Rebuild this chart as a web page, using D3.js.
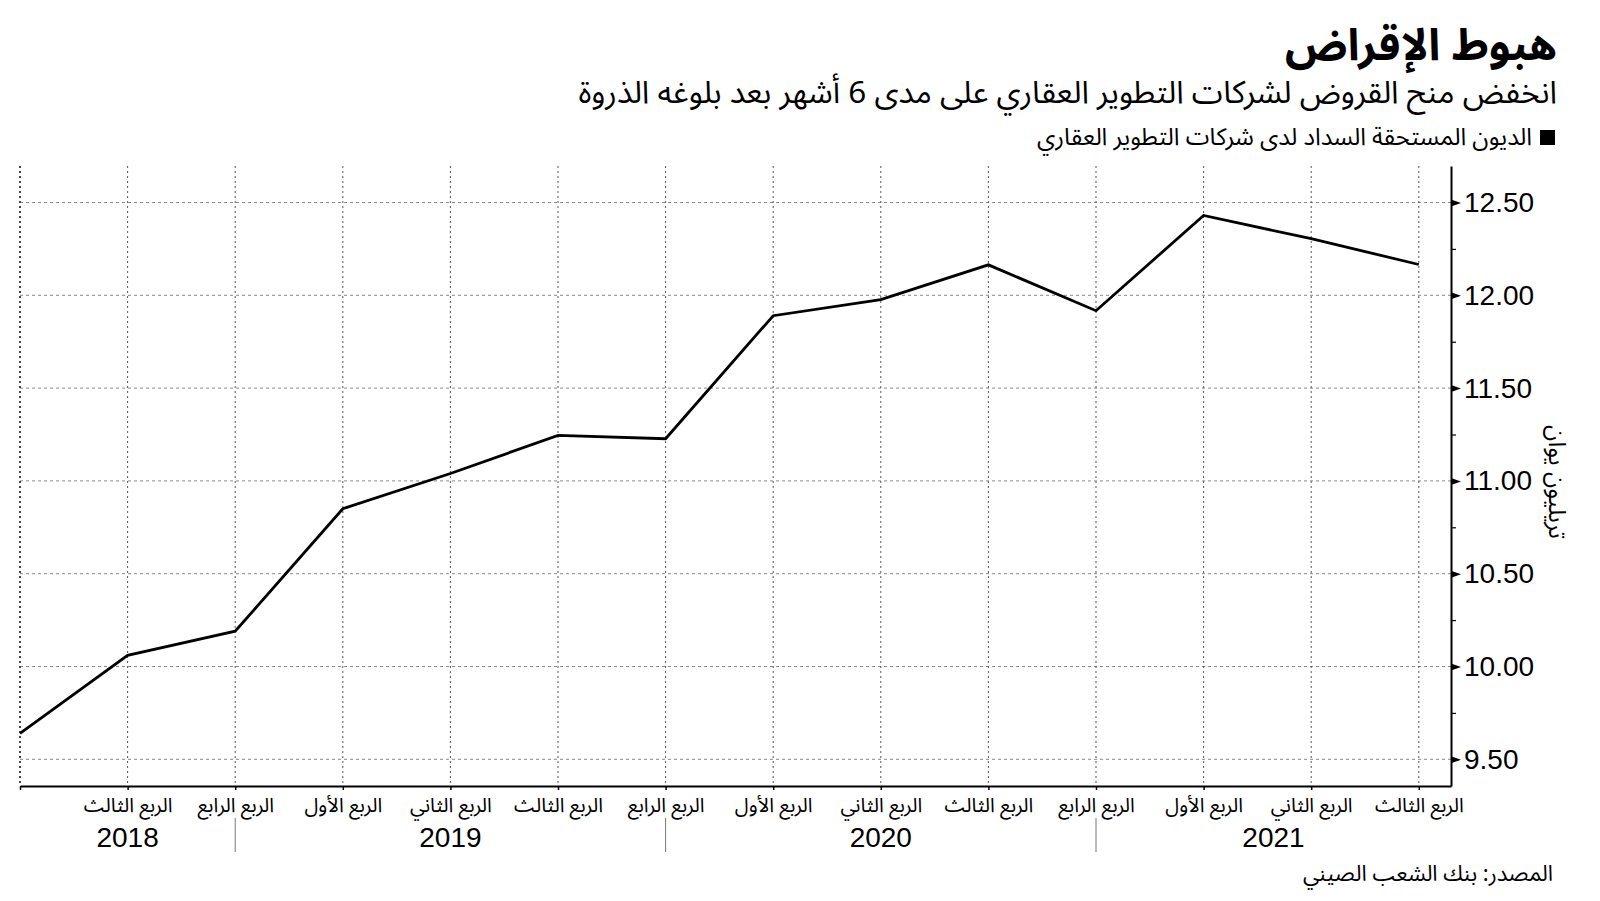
<!DOCTYPE html>
<html lang="ar">
<head>
<meta charset="utf-8">
<script src="https://cdn.jsdelivr.net/npm/d3@7"></script>
<style>
  html, body { margin: 0; padding: 0; background: #fff; }
  svg { display: block; }
  .ar { font-family: "Noto Sans Arabic", "DejaVu Sans", sans-serif; }
  .num { font-family: "Liberation Sans", Arial, sans-serif; }
</style>
</head>
<body>
<svg id="chart" width="1600" height="901"></svg>
<script>
// ---- data ----
const periods = ["2018-Q2","2018-Q3","2018-Q4","2019-Q1","2019-Q2","2019-Q3","2019-Q4",
                 "2020-Q1","2020-Q2","2020-Q3","2020-Q4","2021-Q1","2021-Q2","2021-Q3"];
const quarterLabels = ["", "الربع الثالث", "الربع الرابع", "الربع الأول", "الربع الثاني", "الربع الثالث", "الربع الرابع",
                       "الربع الأول", "الربع الثاني", "الربع الثالث", "الربع الرابع", "الربع الأول", "الربع الثاني", "الربع الثالث"];
const values = [9.64, 10.06, 10.19, 10.85, 11.04, 11.245, 11.227, 11.89, 11.977, 12.164, 11.917, 12.43, 12.305, 12.166];
const years = ["2018", "2019", "2020", "2021"];
const yearStartIndex = [0, 2, 6, 10];
const yTicks = [9.5, 10, 10.5, 11, 11.5, 12, 12.5];
const yMinorTicks = [9.75, 10.25, 10.75, 11.25, 11.75, 12.25];

const titleText = "هبوط الإقراض";
const subtitleText = "انخفض منح القروض لشركات التطوير العقاري على مدى 6 أشهر بعد بلوغه الذروة";
const legendText = "الديون المستحقة السداد لدى شركات التطوير العقاري";
const yAxisTitle = "تريليون يوان";
const sourceText = "المصدر: بنك الشعب الصيني";

// ---- layout ----
const plotLeft = 20, plotRight = 1451, plotTop = 166, plotBottom = 786;
const step = 107.6;

const svg = d3.select("#chart");

const x = d3.scaleLinear()
  .domain([0, (plotRight - plotLeft) / step])
  .range([plotLeft, plotRight]);

const y = d3.scaleLinear()
  .domain([9.5 - (plotBottom - 759.3) / 185.6, 12.5 + (202.5 - plotTop) / 185.6])
  .range([plotBottom, plotTop]);

// gridlines
const grid = svg.append("g");
grid.selectAll("line.h").data(yTicks).join("line")
  .attr("class", "h")
  .attr("x1", plotLeft).attr("x2", plotRight)
  .attr("y1", d => y(d)).attr("y2", d => y(d))
  .attr("stroke", "#8a8a8a").attr("stroke-width", 1)
  .attr("stroke-dasharray", "3,3");

grid.selectAll("line.v").data(d3.range(periods.length)).join("line")
  .attr("class", "v")
  .attr("x1", d => x(d)).attr("x2", d => x(d))
  .attr("y1", plotTop).attr("y2", plotBottom)
  .attr("stroke", d => d === 0 ? "#444" : "#555")
  .attr("stroke-width", d => d === 0 ? 2 : 1)
  .attr("stroke-dasharray", "2,3");

// x axis
const xAxis = svg.append("g")
  .attr("transform", `translate(0,${plotBottom})`)
  .call(d3.axisBottom(x).tickValues(d3.range(periods.length)).tickSize(4).tickSizeOuter(0)
        .tickFormat(i => quarterLabels[i]));
xAxis.select(".domain").attr("stroke", "#000").attr("stroke-width", 2);
xAxis.selectAll(".tick line").attr("stroke", "#000").attr("stroke-width", 1.5);
xAxis.selectAll(".tick text")
  .attr("class", "ar")
  .attr("y", 26).attr("dy", 0)
  .attr("font-size", 20)
  .attr("fill", "#000");

// year separators and labels
const yearEnds = yearStartIndex.slice(1).map(i => x(i)).concat([plotRight]);
const yearGroups = years.map((yr, k) => ({ yr, x0: x(yearStartIndex[k]), x1: yearEnds[k] }));
svg.selectAll("line.ysep").data(yearGroups.slice(1)).join("line")
  .attr("class", "ysep")
  .attr("x1", d => d.x0).attr("x2", d => d.x0)
  .attr("y1", 818).attr("y2", 852)
  .attr("stroke", "#777").attr("stroke-width", 1);
svg.selectAll("text.year").data(yearGroups).join("text")
  .attr("class", "year num")
  .attr("x", d => (d.x0 + d.x1) / 2)
  .attr("y", 847)
  .attr("text-anchor", "middle")
  .attr("font-size", 28)
  .attr("fill", "#000")
  .text(d => d.yr);

// y axis (right)
const yAxis = svg.append("g")
  .attr("transform", `translate(${plotRight},0)`)
  .call(d3.axisRight(y).tickValues(yTicks).tickSize(0).tickPadding(13).tickSizeOuter(0)
        .tickFormat(d3.format(".2f")));
yAxis.select(".domain").attr("stroke", "#000").attr("stroke-width", 2);
yAxis.selectAll(".tick text")
  .attr("class", "num")
  .attr("font-size", 28)
  .attr("fill", "#000");
yAxis.selectAll(".tick").append("path")
  .attr("d", "M0,-3.5L10,0L0,3.5Z")
  .attr("fill", "#000");
const yMinor = svg.append("g")
  .attr("transform", `translate(${plotRight},0)`)
  .call(d3.axisRight(y).tickValues(yMinorTicks).tickSize(5).tickFormat(""));
yMinor.select(".domain").remove();
yMinor.selectAll(".tick line").attr("stroke", "#000").attr("stroke-width", 1.2);

// y axis title
svg.append("text")
  .attr("class", "ar")
  .attr("transform", `translate(1549,482) rotate(90)`)
  .attr("text-anchor", "middle")
  .attr("font-size", 24)
  .attr("fill", "#000")
  .text(yAxisTitle);

// line
const line = d3.line().x((d, i) => x(i)).y(d => y(d));
svg.append("path")
  .datum(values)
  .attr("d", line)
  .attr("fill", "none")
  .attr("stroke", "#000")
  .attr("stroke-width", 2.8)
  .attr("stroke-linejoin", "miter");

// titles
svg.append("text").attr("class", "ar")
  .attr("x", 1557).attr("y", 60)
  .attr("direction", "rtl").attr("text-anchor", "start")
  .attr("font-size", 44).attr("font-weight", "bold").attr("fill", "#000")
  .text(titleText);

svg.append("text").attr("class", "ar")
  .attr("x", 1557).attr("y", 103)
  .attr("direction", "rtl").attr("text-anchor", "start")
  .attr("font-size", 31.5).attr("fill", "#000")
  .text(subtitleText);

// legend
svg.append("rect")
  .attr("x", 1540).attr("y", 130).attr("width", 15).attr("height", 15)
  .attr("fill", "#000");
svg.append("text").attr("class", "ar")
  .attr("x", 1532).attr("y", 145)
  .attr("direction", "rtl").attr("text-anchor", "start")
  .attr("font-size", 24).attr("fill", "#000")
  .text(legendText);

// source
svg.append("text").attr("class", "ar")
  .attr("x", 1553).attr("y", 881)
  .attr("direction", "rtl").attr("text-anchor", "start")
  .attr("font-size", 22).attr("fill", "#000")
  .text(sourceText);
</script>
</body>
</html>
